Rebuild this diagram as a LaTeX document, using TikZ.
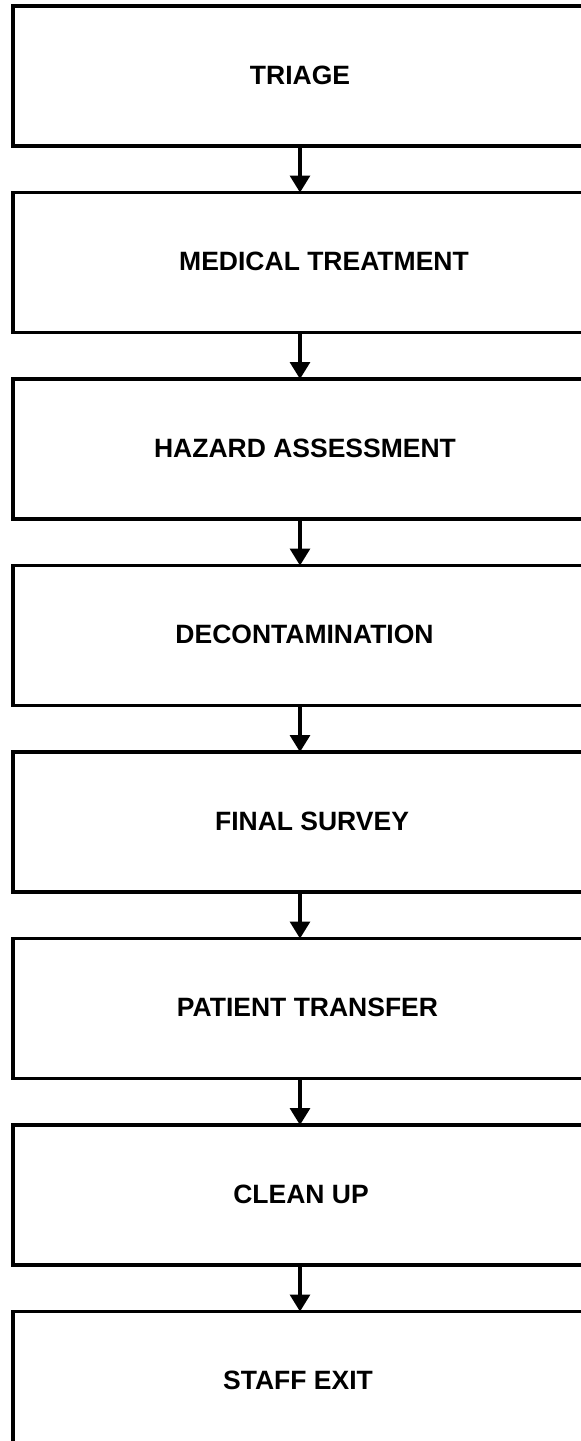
\documentclass[tikz,border=0pt]{standalone}
\usepackage{fontspec}
\setmainfont{Liberation Sans}
\usetikzlibrary{arrows.meta}
\tikzset{
  stagebox/.style={draw=black, line width=3.2pt, fill=white, rectangle, minimum width=587pt, minimum height=140pt, inner sep=0pt, outer sep=0pt},
  stagetext/.style={font=\fontsize{26.5}{31}\selectfont\bfseries, inner sep=0pt, anchor=center},
  flowarrow/.style={line width=3.2pt, -{Triangle[length=17pt,width=20pt]}}
}
\begin{document}
\begin{tikzpicture}[x=1pt,y=-1pt]
\useasboundingbox (0,0) rectangle (581,1441);
\clip (0,0) rectangle (581,1441);
\coordinate (ax) at (300,0);
\foreach \i/\tx/\lbl in {0/300/TRIAGE,1/324/MEDICAL TREATMENT,2/305/HAZARD ASSESSMENT,3/304.5/DECONTAMINATION,4/312/FINAL SURVEY,5/307.5/PATIENT TRANSFER,6/301/CLEAN UP,7/298/STAFF EXIT}{
  \node[stagebox] (b\i) at (306.5,{76+186.5*\i}) {};
  \node[stagetext] (t\i) at (\tx,{75+186.5*\i}) {\lbl};
}
\foreach \i [evaluate=\i as \j using int(\i+1)] in {0,...,6}{
  \draw[flowarrow] (b\i.south -| ax) -- (b\j.north -| ax);
}
\end{tikzpicture}
\end{document}
